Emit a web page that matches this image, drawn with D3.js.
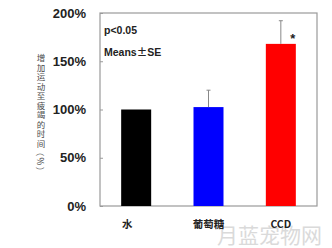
<!DOCTYPE html>
<meta charset="utf-8">
<script src="https://d3js.org/d3.v7.min.js"></script>
<style>
  body { margin: 0; background: #fff; }
  svg { display: block; }
  .tick text { font-family: Arial, "Liberation Sans", sans-serif; font-weight: bold; font-size: 13px; fill: #222; }
</style>
<body>
<div id="chart"></div>
<script>
// data
var groups = ["水", "葡萄糖", "CCD"];
var means = [100, 102.5, 168];
var errTop = [null, 120, 192];
var colors = ["#000000", "#0000ff", "#ff0000"];
var yTicks = [0, 50, 100, 150, 200];
var yLabel = "增加运动至疲竭的时间（%）";

var W = 332, H = 248;
var margin = {top: 13, right: 15, bottom: 42, left: 100};

var svg = d3.select("#chart").append("svg")
  .attr("width", W).attr("height", H);

var x = d3.scalePoint()
  .domain(groups)
  .range([margin.left, W - margin.right])
  .padding(0.5);

var y = d3.scaleLinear()
  .domain([0, 200])
  .range([H - margin.bottom, margin.top]);

var barW = 30;

// watermark (behind)
svg.append("text")
  .attr("x", 322).attr("y", 243)
  .attr("text-anchor", "end")
  .style("font-family", "'Noto Sans CJK SC', sans-serif")
  .style("font-size", "21px")
  .attr("fill", "#dadada")
  .text("月蓝宠物网");

// frame
svg.append("rect")
  .attr("x", margin.left).attr("y", margin.top)
  .attr("width", W - margin.right - margin.left)
  .attr("height", y(0) - margin.top)
  .attr("fill", "none").attr("stroke", "#9a9a9a").attr("stroke-width", 1.2);

// y axis
var yAxis = d3.axisLeft(y)
  .tickValues(yTicks)
  .tickFormat(function(d) { return d + "%"; })
  .tickSize(-3)
  .tickPadding(14);

svg.append("g")
  .attr("transform", "translate(" + margin.left + ",0)")
  .call(yAxis)
  .call(function(g) { g.select(".domain").remove(); })
  .call(function(g) { g.selectAll(".tick line").attr("stroke", "#9a9a9a"); });

// bars
svg.selectAll(".bar")
  .data(groups)
  .enter().append("rect")
    .attr("x", function(d) { return x(d) - barW / 2; })
    .attr("y", function(d, i) { return y(means[i]); })
    .attr("width", barW)
    .attr("height", function(d, i) { return y(0) - y(means[i]); })
    .attr("fill", function(d, i) { return colors[i]; });

// error bars (upper only)
groups.forEach(function(g, i) {
  if (errTop[i] == null) return;
  svg.append("line")
    .attr("x1", x(g)).attr("x2", x(g))
    .attr("y1", y(means[i])).attr("y2", y(errTop[i]))
    .attr("stroke", "#888").attr("stroke-width", 1);
  svg.append("line")
    .attr("x1", x(g) - 2).attr("x2", x(g) + 2)
    .attr("y1", y(errTop[i])).attr("y2", y(errTop[i]))
    .attr("stroke", "#888").attr("stroke-width", 1);
});

// asterisk
svg.append("text")
  .attr("x", x("CCD") + 12).attr("y", y(means[2]) - 1)
  .attr("text-anchor", "middle")
  .style("font-family", "Arial, sans-serif").style("font-weight", "bold")
  .style("font-size", "13px").attr("fill", "#222")
  .text("*");

// x labels
svg.selectAll(".xlab")
  .data(groups)
  .enter().append("text")
    .attr("x", function(d, i) { return x(d) - (i === 0 ? 9 : 0); })
    .attr("y", 228)
    .attr("text-anchor", "middle")
    .style("font-family", "'Noto Sans CJK SC', sans-serif")
    .style("font-size", "10.5px")
    .style("font-weight", "bold")
    .attr("fill", "#222")
    .text(function(d) { return d; });

// annotations
svg.append("text")
  .attr("x", 104).attr("y", 34)
  .style("font-family", "Arial, sans-serif").style("font-weight", "bold")
  .style("font-size", "10.5px").attr("fill", "#222")
  .text("p<0.05");
var ms = svg.append("text")
  .attr("x", 104).attr("y", 56)
  .style("font-family", "Arial, sans-serif").style("font-weight", "bold")
  .style("font-size", "10.5px").attr("fill", "#222");
ms.append("tspan").text("Means");
ms.append("tspan").style("font-family", "'Noto Sans CJK SC', sans-serif").text("±");
ms.append("tspan").text("SE");

// y label, one character per line
var chars = Array.from(yLabel);
var step = 9.5;
chars.forEach(function(c, i) {
  var cy = 57 + i * step;
  var t = svg.append("text")
    .attr("x", 41).attr("y", cy)
    .attr("text-anchor", "middle")
    .attr("dominant-baseline", "central")
    .style("font-family", "'Noto Sans CJK SC', sans-serif")
    .style("font-size", "8.5px")
    .attr("fill", "#4a4a4a")
    .text(c);
  if (c === "（" || c === "）" || c === "%") {
    t.attr("transform", "rotate(90,41," + cy + ")");
  }
});
</script>
</body>
